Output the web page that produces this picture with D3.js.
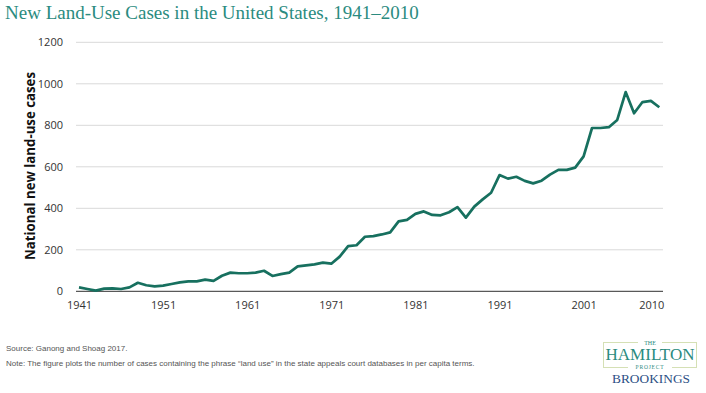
<!DOCTYPE html>
<html>
<head>
<meta charset="utf-8">
<script src="https://cdn.jsdelivr.net/npm/d3@7"></script>
<style>
  html, body { margin: 0; padding: 0; background: #fff; }
  svg { display: block; }
  .tick-label { font-family: 'Open Sans', sans-serif; font-size: 11px; fill: #333; }
  .footer { font-family: 'Liberation Sans', Arial, sans-serif; font-size: 8px; fill: #555; }
</style>
</head>
<body>
<svg id="chart" width="706" height="393"></svg>
<script>
const years = d3.range(1941, 2011);
const cases = [
  19, 11, 3, 13, 14, 11, 19, 41, 29, 24,
  27, 35, 43, 48, 48, 56, 50, 75, 90, 87,
  87, 90, 99, 74, 83, 90, 120, 125, 130, 138,
  133, 167, 218, 222, 263, 266, 274, 284, 337, 344,
  373, 385, 368, 366, 381, 406, 355, 408, 443, 475,
  560, 543, 552, 532, 520, 533, 562, 585, 585, 596,
  650, 787, 787, 791, 826, 960, 858, 912, 918, 887
];
const yTicks = [0, 200, 400, 600, 800, 1000, 1200];
const xTicks = [1941, 1951, 1961, 1971, 1981, 1991, 2001, 2010];

const title = 'New Land-Use Cases in the United States, 1941\u20132010';
const yLabel = 'National new land-use cases';
const source = 'Source: Ganong and Shoag 2017.';
const note = 'Note: The figure plots the number of cases containing the phrase \u201cland use\u201d in the state appeals court databases in per capita terms.';

const svg = d3.select('#chart');
const left = 76, right = 663;

const x = d3.scaleLinear().domain([1941, 2010]).range([79, 659.3]);
const y = d3.scaleLinear().domain([0, 1200]).range([291.3, 42.3]);

// title
svg.append('text')
  .attr('x', 5).attr('y', 19)
  .attr('font-family', "'Liberation Serif', serif")
  .attr('font-size', 19)
  .attr('fill', '#2b8b80')
  .text(title);

// grid lines
svg.append('g')
  .selectAll('line')
  .data(yTicks.filter(d => d > 0))
  .enter()
  .append('line')
  .attr('x1', left).attr('x2', right)
  .attr('y1', d => y(d)).attr('y2', d => y(d))
  .attr('stroke', '#d9d9d9')
  .attr('stroke-width', 1);

// y axis labels
const yAxis = svg.append('g')
  .attr('transform', `translate(${left}, 0)`)
  .call(d3.axisLeft(y).tickValues(yTicks).tickFormat(d3.format('d')).tickSize(0).tickPadding(13));
yAxis.select('.domain').remove();
yAxis.selectAll('text').attr('class', 'tick-label').attr('font-family', null).attr('font-size', null);

// x axis labels
const xAxis = svg.append('g')
  .attr('transform', `translate(0, ${y(0)})`)
  .call(d3.axisBottom(x).tickValues(xTicks).tickFormat(d3.format('d')).tickSize(0).tickPadding(10));
xAxis.select('.domain').remove();
xAxis.selectAll('text').attr('class', 'tick-label').attr('font-family', null).attr('font-size', null)
  .attr('dx', d => d === 2010 ? -8 : 0);

// baseline
svg.append('line')
  .attr('x1', left).attr('x2', right)
  .attr('y1', y(0)).attr('y2', y(0))
  .attr('stroke', '#595959')
  .attr('stroke-width', 1.2);

// y axis title
svg.append('text')
  .attr('transform', `translate(35, 166) rotate(-90)`)
  .attr('text-anchor', 'middle')
  .attr('font-family', "'Open Sans', sans-serif")
  .attr('font-weight', 'bold')
  .attr('font-size', 14.5)
  .attr('fill', '#111')
  .attr('textLength', 188).attr('lengthAdjust', 'spacingAndGlyphs')
  .text(yLabel);

// line
svg.append('path')
  .datum(years.map((yr, i) => ({ yr, v: cases[i] })))
  .attr('fill', 'none')
  .attr('stroke', '#17705f')
  .attr('stroke-width', 2.7)
  .attr('stroke-linejoin', 'round')
  .attr('d', d3.line().x(d => x(d.yr)).y(d => y(d.v)));

// footer
svg.append('text').attr('class', 'footer').attr('x', 6).attr('y', 351).text(source);
svg.append('text').attr('class', 'footer').attr('x', 6).attr('y', 366).text(note);

// logo
const logo = svg.append('g');
logo.append('rect')
  .attr('x', 603.5).attr('y', 342.5).attr('width', 93).attr('height', 25)
  .attr('fill', 'none').attr('stroke', '#d5e0b5').attr('stroke-width', 1);
logo.append('rect')
  .attr('x', 638).attr('y', 340).attr('width', 24).attr('height', 5).attr('fill', '#fff');
logo.append('rect')
  .attr('x', 628).attr('y', 364).attr('width', 44).attr('height', 6).attr('fill', '#fff');
logo.append('text')
  .attr('x', 650).attr('y', 345).attr('text-anchor', 'middle')
  .attr('font-family', "'Liberation Serif', serif").attr('font-size', 6).attr('fill', '#2b8b80')
  .text('THE');
logo.append('text')
  .attr('x', 650).attr('y', 360).attr('text-anchor', 'middle')
  .attr('font-family', "'Liberation Serif', serif").attr('font-size', 16).attr('fill', '#2b8b80')
  .attr('textLength', 89).attr('lengthAdjust', 'spacingAndGlyphs')
  .text('HAMILTON');
logo.append('text')
  .attr('x', 650).attr('y', 369).attr('text-anchor', 'middle')
  .attr('font-family', "'Liberation Serif', serif").attr('font-size', 5.5).attr('fill', '#2b8b80')
  .attr('letter-spacing', 0.8)
  .text('PROJECT');
logo.append('text')
  .attr('x', 651).attr('y', 383).attr('text-anchor', 'middle')
  .attr('font-family', "'Liberation Serif', serif").attr('font-size', 12.5).attr('fill', '#2d4f85')
  .attr('textLength', 78).attr('lengthAdjust', 'spacingAndGlyphs')
  .text('BROOKINGS');
</script>
</body>
</html>
